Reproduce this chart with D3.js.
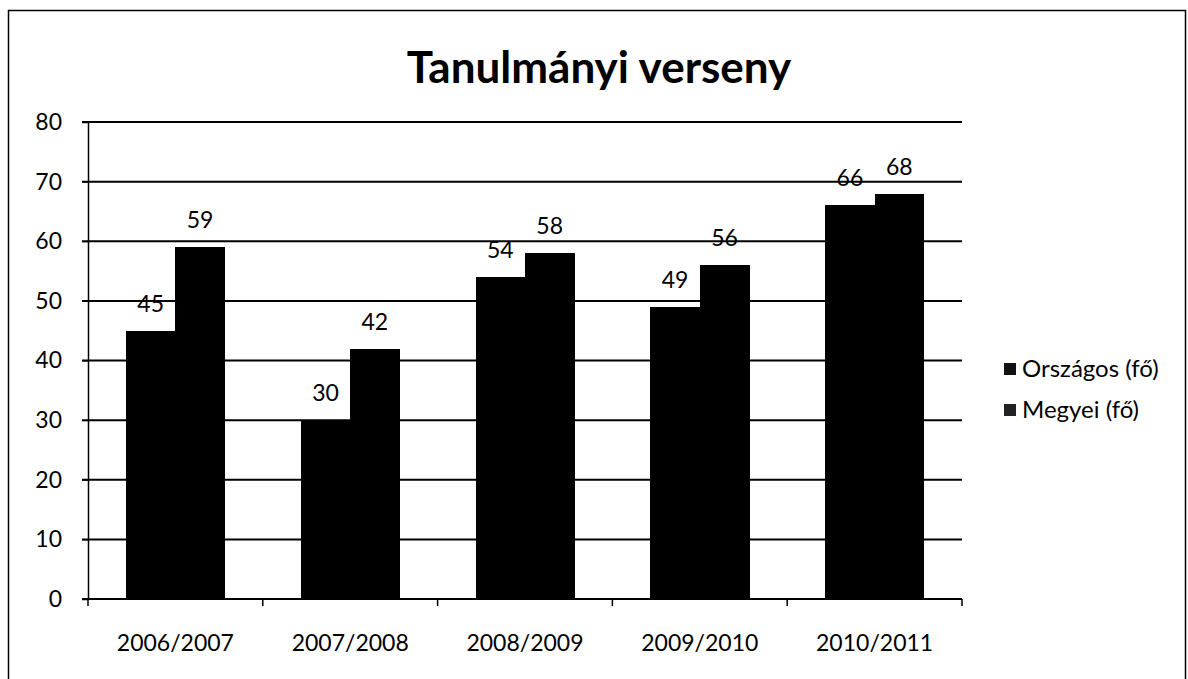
<!DOCTYPE html>
<html>
<head>
<meta charset="utf-8">
<script src="https://cdn.jsdelivr.net/npm/d3@7"></script>
<style>
  body { margin: 0; background: #fff; }
  text { font-family: Lato, "Open Sans", sans-serif; fill: #000; }
</style>
</head>
<body>
<div id="chart"></div>
<script>
'use strict';

/**** DATA ****/
var years = ["2006/2007", "2007/2008", "2008/2009", "2009/2010", "2010/2011"];
var seriesNames = ["Országos (fő)", "Megyei (fő)"];
var orszagos = [45, 30, 54, 49, 66];
var megyei = [59, 42, 58, 56, 68];
var yTicks = [0, 10, 20, 30, 40, 50, 60, 70, 80];
var chartTitle = "Tanulmányi verseny";

var width = 1188;
var height = 679;
var plot = { left: 88, right: 962, top: 122, bottom: 599 };

var svg = d3.select("#chart")
  .append("svg")
  .attr("width", width)
  .attr("height", height);

// outer frame (bottom edge runs off the page)
svg.append("rect")
  .attr("x", 8.5)
  .attr("y", 10.5)
  .attr("width", 1177)
  .attr("height", 690)
  .attr("fill", "none")
  .attr("stroke", "#000")
  .attr("stroke-width", 1.5);

svg.append("text")
  .attr("x", 599)
  .attr("y", 83)
  .attr("text-anchor", "middle")
  .style("font-size", "44px")
  .style("font-weight", "bold")
  .text(chartTitle);

/**** SCALES ****/
var x0 = d3.scaleBand()
  .domain(years)
  .range([plot.left, plot.right])
  .padding(0);

var x1 = d3.scaleBand()
  .domain(seriesNames)
  .range([0, x0.bandwidth()])
  .paddingInner(0)
  .paddingOuter(0.77);

var y = d3.scaleLinear()
  .domain([0, 80])
  .range([plot.bottom, plot.top]);

// gridlines
var grid = svg.append("g");
grid.selectAll("line")
  .data(yTicks)
  .enter().append("line")
  .attr("x1", plot.left - 6)
  .attr("x2", plot.right)
  .attr("y1", function(d) { return y(d); })
  .attr("y2", function(d) { return y(d); })
  .attr("stroke", "#000")
  .attr("stroke-width", 2);

// y axis
var yAxis = svg.append("g")
  .attr("transform", "translate(" + plot.left + ",0)")
  .call(d3.axisLeft(y).tickValues(yTicks).tickSize(6).tickPadding(20));
yAxis.select(".domain").attr("stroke-width", 1.5);
yAxis.selectAll("text").style("font-size", "23px");

// x axis: ticks sit on the category boundaries
var xAxis = svg.append("g");
xAxis.append("line")
  .attr("x1", plot.left)
  .attr("x2", plot.right)
  .attr("y1", plot.bottom)
  .attr("y2", plot.bottom)
  .attr("stroke", "#000")
  .attr("stroke-width", 2);
var bounds = years.map(function(d) { return x0(d); }).concat([plot.right]);
xAxis.selectAll(".tick")
  .data(bounds)
  .enter().append("line")
  .attr("x1", function(d) { return d; })
  .attr("x2", function(d) { return d; })
  .attr("y1", plot.bottom)
  .attr("y2", plot.bottom + 7)
  .attr("stroke", "#000")
  .attr("stroke-width", 1.5);
xAxis.selectAll("text")
  .data(years)
  .enter().append("text")
  .attr("x", function(d) { return x0(d) + x0.bandwidth() / 2; })
  .attr("y", 651)
  .attr("text-anchor", "middle")
  .style("font-size", "23px")
  .text(function(d) { return d; });

/**** BARS ****/
var rows = years.map(function(yr, i) {
  return { year: yr, values: [
    { name: seriesNames[0], value: orszagos[i] },
    { name: seriesNames[1], value: megyei[i] }
  ] };
});

var groups = svg.append("g").selectAll("g")
  .data(rows)
  .enter().append("g")
  .attr("transform", function(d) { return "translate(" + x0(d.year) + ",0)"; });

groups.selectAll("rect")
  .data(function(d) { return d.values; })
  .enter().append("rect")
  .attr("x", function(d) { return x1(d.name); })
  .attr("y", function(d) { return y(d.value); })
  .attr("width", x1.bandwidth() + 0.5) // overlap a little so the pair reads as one block
  .attr("height", function(d) { return y(0) - y(d.value); })
  .attr("fill", "#000")
  .attr("shape-rendering", "crispEdges");

// value labels above each bar
groups.selectAll("text")
  .data(function(d) { return d.values; })
  .enter().append("text")
  .attr("x", function(d) { return x1(d.name) + x1.bandwidth() / 2; })
  .attr("y", function(d) { return y(d.value) - 19; })
  .attr("text-anchor", "middle")
  .style("font-size", "23px")
  .text(function(d) { return d.value; });

/**** LEGEND ****/
var legend = svg.append("g").selectAll("g")
  .data(seriesNames)
  .enter().append("g")
  .attr("transform", function(d, i) { return "translate(1004," + (369 + i * 41) + ")"; });

legend.append("rect")
  .attr("x", 0)
  .attr("y", -6)
  .attr("width", 12)
  .attr("height", 12)
  .attr("fill", function(d, i) { return i === 0 ? "#111" : "#222"; });

legend.append("text")
  .attr("x", 18)
  .attr("y", 8)
  .style("font-size", "24px")
  .text(function(d) { return d; });
</script>
</body>
</html>
